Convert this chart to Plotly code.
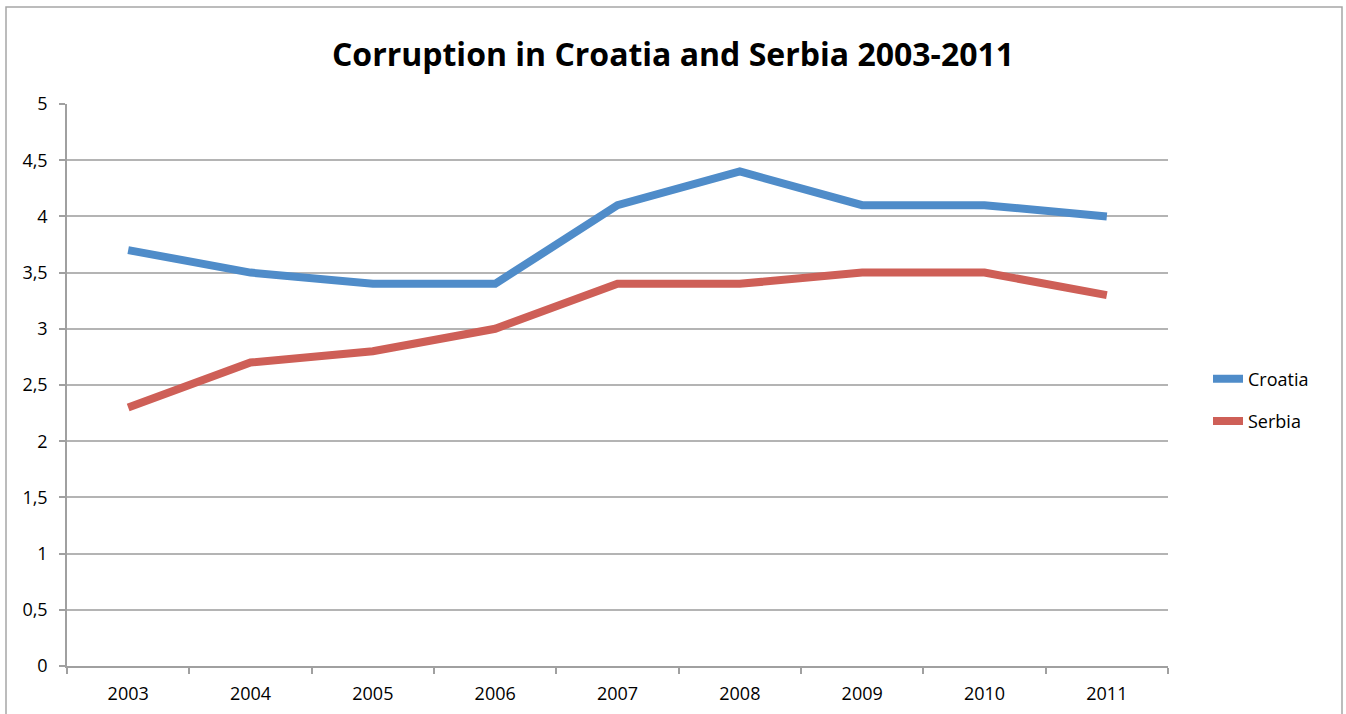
import plotly.graph_objects as go

years = ["2003", "2004", "2005", "2006", "2007", "2008", "2009", "2010", "2011"]
croatia = [3.7, 3.5, 3.4, 3.4, 4.1, 4.4, 4.1, 4.1, 4.0]
serbia = [2.3, 2.7, 2.8, 3.0, 3.4, 3.4, 3.5, 3.5, 3.3]
y_ticks = [0, 0.5, 1, 1.5, 2, 2.5, 3, 3.5, 4, 4.5, 5]

W, H = 1346, 714
L, R, T, B = 67, 178, 104, 48
pw, ph = W - L - R, H - T - B

FONT = "Open Sans"

fig = go.Figure()
fig.add_trace(go.Scatter(x=years, y=croatia, name="Croatia", mode="lines",
                         line=dict(color="#4F8CC9", width=8), legendgroup="a"))
fig.add_trace(go.Scatter(x=years, y=serbia, name="Serbia", mode="lines",
                         line=dict(color="#CE5F57", width=8), legendgroup="b"))

# outer chart frame
fig.add_shape(type="rect", xref="paper", yref="paper",
              x0=(6 - L) / pw, x1=(1342 - L) / pw,
              y0=-(H + 20 - T - ph) / ph, y1=1 + (T - 7) / ph,
              line=dict(color="#A6A6A6", width=1.5), layer="below")

fig.update_layout(
    width=W, height=H,
    margin=dict(l=L, r=R, t=T, b=B, autoexpand=False),
    paper_bgcolor="white", plot_bgcolor="white",
    separators=", ",
    title=dict(text="<b>Corruption in Croatia and Serbia 2003-2011</b>",
               x=0.5, xanchor="center", xref="container",
               y=1 - 55 / H, yanchor="middle",
               font=dict(family=FONT, size=32, color="black")),
    font=dict(family=FONT, size=18, color="black"),
    showlegend=True,
    legend=dict(x=(1208 - L) / pw, xanchor="left", y=1 - (400 - T) / ph, yanchor="middle",
                font=dict(family=FONT, size=18, color="black"),
                tracegroupgap=16, bgcolor="rgba(0,0,0,0)"),
    xaxis=dict(type="category", showgrid=False, showline=True, linecolor="#A0A0A0",
               linewidth=1.5, ticks="outside", tickson="boundaries", ticklen=6,
               tickcolor="#A0A0A0", tickwidth=1.5, range=[-0.5, 8.5],
               ticklabelstandoff=11, tickfont=dict(size=18), automargin=False),
    yaxis=dict(range=[0, 5], tickvals=y_ticks, showgrid=True, gridcolor="#B4B4B4",
               gridwidth=1.5, showline=True, linecolor="#A0A0A0", linewidth=1.5,
               ticks="outside", ticklen=6, tickcolor="#A0A0A0", tickwidth=1.5,
               zeroline=False, ticklabelstandoff=8, tickfont=dict(size=18),
               automargin=False),
)

fig.write_html("out.html", config={"displayModeBar": False},
               post_script="document.body.style.margin='0px';")
